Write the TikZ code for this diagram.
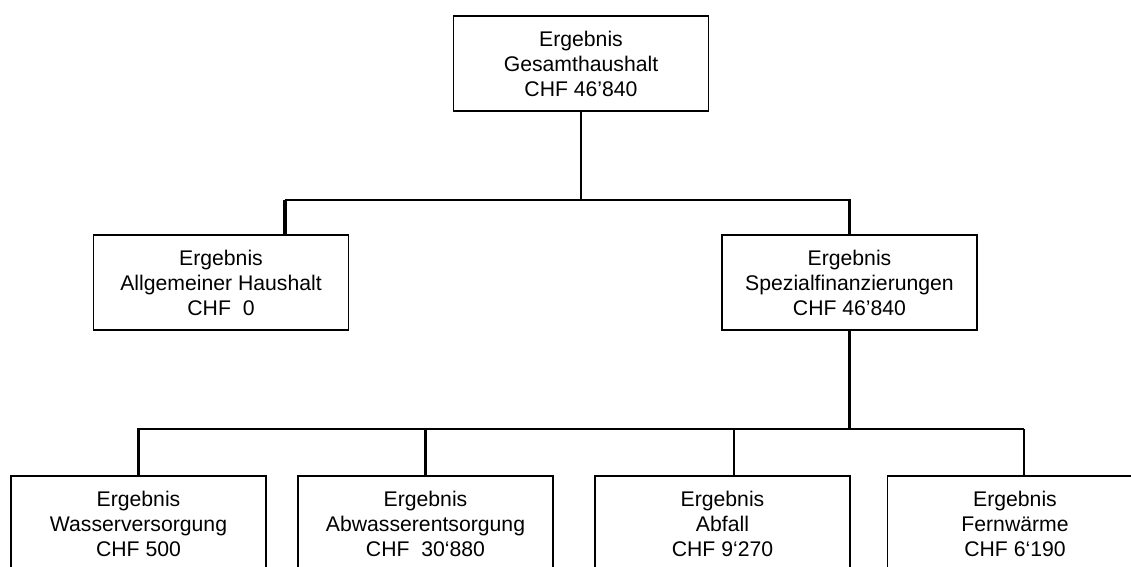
\documentclass[tikz,border=0pt]{standalone}
\usepackage{fontspec}
\setmainfont{Liberation Sans}
\usepackage{tikz}

\begin{document}
\begin{tikzpicture}[x=1pt, y=-1pt,
    box/.style={draw, line width=1.7pt, minimum width=255pt, minimum height=95pt,
      inner sep=0pt, align=center, font=\fontsize{21.2}{25}\selectfont},
    link/.style={line width=2.2pt}]
             \clip (0,0) rectangle (1131,566);
             \fill[white] (0,0) rectangle (1131,566);

             \node[box] (gesamt) at (581, 63.5) {Ergebnis\\Gesamthaushalt\\CHF 46’840};
             \node[box] (allg) at (221, 282.5) {Ergebnis\\Allgemeiner Haushalt\\CHF~~0};
             \node[box] (spez) at (849.5, 282.5) {Ergebnis\\Spezialfinanzierungen\\CHF 46’840};

             \node[box] (wasser) at (138.5, 523.5) {Ergebnis\\Wasserversorgung\\CHF 500};
             \node[box] (abwasser) at (425.5, 523.5) {Ergebnis\\Abwasserentsorgung\\CHF~~30‘880};
             \node[box] (abfall) at (722.5, 523.5) {Ergebnis\\Abfall\\CHF 9‘270};
             \node[box] (fernw) at (1015, 523.5) {Ergebnis\\Fernwärme\\CHF 6‘190};

             \coordinate (barA) at (285, 200);
             \coordinate (barB) at (849.5, 200);
             \draw[line width=1.3pt] (gesamt.south) -- (gesamt.south |- barA);
             \draw[link] (barA) -- (barB) -- (spez.north);
             \draw[line width=3.2pt] (barA) -- (barA |- allg.north);

             \coordinate (barC) at (137, 429);
             \coordinate (barD) at (1024, 429);
             \draw[link] (spez.south) -- (spez.south |- barC);
             \draw[link] (barC) -- (barD);
             \draw[link] (wasser.north |- barC) -- (wasser.north);
             \draw[link] (abwasser.north |- barC) -- (abwasser.north);
             \draw[link] (734, 429) -- (734, 476);
             \draw[link] (barD) -- (barD |- fernw.north);
             \end{tikzpicture}
\end{document}
